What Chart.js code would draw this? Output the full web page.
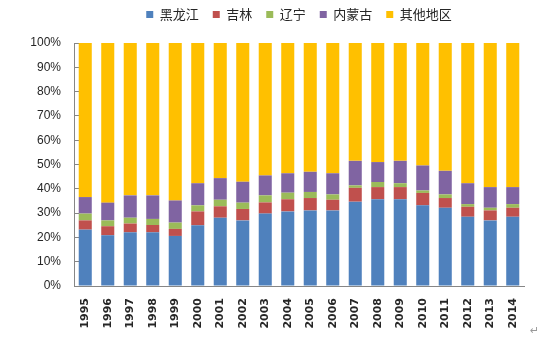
<!DOCTYPE html>
<html>
<head>
<meta charset="utf-8">
<script src="https://cdn.jsdelivr.net/npm/chart.js@4.4.1/dist/chart.umd.min.js"></script>
<style>
    body { margin: 0; background: #fff; }
    #box { position: relative; width: 542px; height: 344px; }
    #mark { position: absolute; left: 530px; top: 324px; font: 11px "DejaVu Sans"; color: #999; }
</style>
</head>
<body>
<div id="box">
    <canvas id="myChart" width="542" height="344"></canvas>
    <span id="mark">↵</span>
</div>
<script>
// 各地区所占比例 (%)
let anos = ["1995", "1996", "1997", "1998", "1999", "2000", "2001", "2002", "2003", "2004",
            "2005", "2006", "2007", "2008", "2009", "2010", "2011", "2012", "2013", "2014"]
let heilongjiang = [23.2, 20.9, 22.1, 22.1, 20.6, 25.0, 28.1, 27.0, 29.8, 30.7,
                    31.1, 31.1, 34.7, 35.7, 35.7, 33.2, 32.2, 28.5, 27.0, 28.5]
let jilin = [3.8, 3.7, 3.6, 3.0, 2.9, 5.7, 4.7, 4.7, 4.6, 5.0,
             5.1, 4.4, 5.7, 5.0, 5.0, 5.1, 4.0, 4.1, 4.1, 3.7]
let liaoning = [2.8, 2.4, 2.4, 2.5, 2.6, 2.5, 2.7, 2.6, 2.9, 2.7,
                2.5, 2.2, 1.0, 2.1, 1.6, 1.0, 1.5, 1.1, 1.1, 1.5]
let neimenggu = [6.8, 7.3, 9.2, 9.7, 9.1, 9.1, 8.9, 8.6, 8.2, 8.0,
                 8.3, 8.7, 10.1, 8.2, 9.2, 10.3, 9.7, 8.6, 8.5, 7.0]
let outros = [63.4, 65.7, 62.7, 62.7, 64.8, 57.7, 55.6, 57.1, 54.5, 53.6,
              53.0, 53.6, 48.5, 49.0, 48.5, 50.4, 52.6, 57.7, 59.3, 59.3]
let yTicks = [0, 10, 20, 30, 40, 50, 60, 70, 80, 90, 100]

chartJS()

function serie(label, data, cor) {
    return {
        label: label,
        data: data,
        backgroundColor: cor,
        borderWidth: 0,
        barPercentage: 0.58,
        categoryPercentage: 1
    }
}

function chartJS() {
    var ctx = document.getElementById('myChart').getContext('2d');
    let eixo = '#868686'

    // space under the legend
    let legendaMargem = {
        id: 'legendaMargem',
        afterInit(chart) {
            let fit = chart.legend.fit
            chart.legend.fit = function () {
                fit.bind(chart.legend)()
                this.height += 12
            }
        }
    }

    window.bar = new Chart(ctx, {
        type: 'bar',
        data: {
            labels: anos,
            datasets: [
                serie('黑龙江', heilongjiang, '#4F81BD'),
                serie('吉林', jilin, '#C0504D'),
                serie('辽宁', liaoning, '#9BBB59'),
                serie('内蒙古', neimenggu, '#8064A2'),
                serie('其他地区', outros, '#FFC000')
            ]
        },
        plugins: [legendaMargem],
        options: {
            responsive: false,
            animation: false,
            layout: { padding: { left: 0, right: 18, top: -6, bottom: 0 } },
            plugins: {
                tooltip: { enabled: false },
                legend: {
                    position: 'top',
                    fullSize: false,
                    labels: {
                        boxWidth: 7,
                        boxHeight: 7,
                        padding: 14,
                        color: '#262626',
                        font: { family: '"Noto Sans CJK SC"', size: 13 }
                    }
                }
            },
            scales: {
                x: {
                    stacked: true,
                    afterFit: function (s) { s.height = 58 },
                    grid: { drawOnChartArea: false, drawTicks: false, color: eixo },
                    border: { color: eixo },
                    ticks: {
                        minRotation: 90,
                        maxRotation: 90,
                        padding: 12,
                        color: '#262626',
                        font: { family: '"DejaVu Sans"', size: 11, weight: 'bold' }
                    }
                },
                y: {
                    stacked: true,
                    min: 0,
                    max: 100,
                    afterFit: function (s) { s.width = 74 },
                    afterBuildTicks: function (s) { s.ticks = yTicks.map(v => ({ value: v })) },
                    grid: { drawOnChartArea: false, tickLength: -5, color: eixo },
                    border: { color: eixo },
                    ticks: {
                        padding: 18,
                        color: '#262626',
                        font: { family: '"Liberation Sans"', size: 12 },
                        callback: function (v) { return v + '%' }
                    }
                }
            }
        }
    });
}
</script>
</body>
</html>
